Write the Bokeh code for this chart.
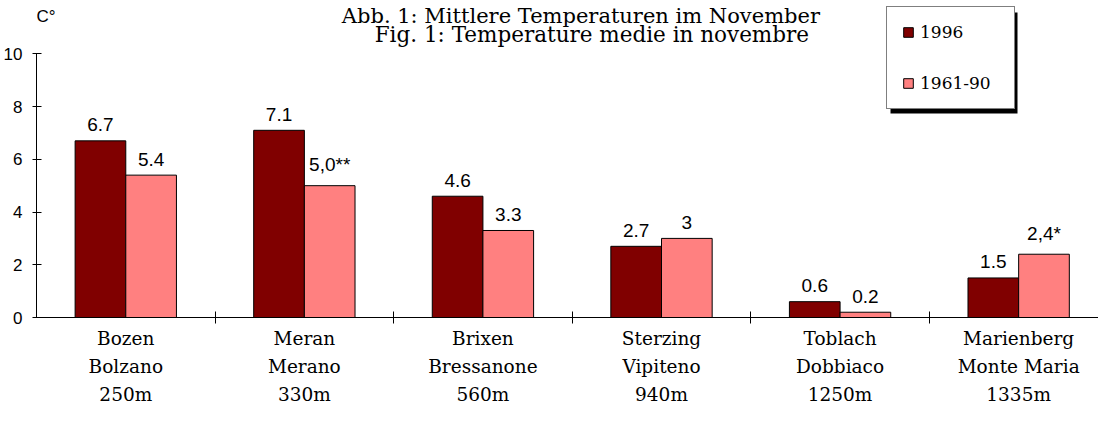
from bokeh.plotting import figure
from bokeh.models import (Range1d, FixedTicker, Legend, LegendItem, Label,
                          BoxAnnotation, ColumnDataSource)
from bokeh.transform import dodge
from bokeh.core.properties import value
from bokeh.embed import file_html
from bokeh.resources import INLINE

# ---------------- data ----------------
stations_de = ["Bozen", "Meran", "Brixen", "Sterzing", "Toblach", "Marienberg"]
stations_it = ["Bolzano", "Merano", "Bressanone", "Vipiteno", "Dobbiaco", "Monte Maria"]
altitudes = ["250m", "330m", "560m", "940m", "1250m", "1335m"]
series_names = ["1996", "1961-90"]
vals_1996 = [6.7, 7.1, 4.6, 2.7, 0.6, 1.5]
vals_6190 = [5.4, 5.0, 3.3, 3.0, 0.2, 2.4]
labels_1996 = ["6.7", "7.1", "4.6", "2.7", "0.6", "1.5"]
labels_6190 = ["5.4", "5,0**", "3.3", "3", "0.2", "2,4*"]
y_ticks = [0, 2, 4, 6, 8, 10]
title_de = "Abb. 1: Mittlere Temperaturen im November"
title_it = "Fig. 1: Temperature medie in novembre"
y_unit = "C°"

# ---------------- layout constants ----------------
W, H = 1098, 407
PX_CAT = 179.75          # pixels per category
FRAME_W = 1069
FRAME_H = 309            # expected frame height (figure px)
PX_UNIT = (FRAME_H - 52) / 10.0
x_end = FRAME_W / PX_CAT
y_end = FRAME_H / PX_UNIT
BAR_W = 51 / PX_CAT

C1 = "#800000"
C2 = "#FF8080"
SERIF = "DejaVu Serif"
SANS = "Liberation Sans"

n = len(stations_de)
centers = [i + 0.5 for i in range(n)]
cat_labels = {c: f"{a}\n{b}\n{m}" for c, a, b, m in zip(centers, stations_de, stations_it, altitudes)}


def off(s):
    return -21 if "*" in s else -16


src = ColumnDataSource(dict(
    x=centers, v1=vals_1996, v2=vals_6190,
    l1=labels_1996, l2=labels_6190,
    o1=[off(s) for s in labels_1996], o2=[off(s) for s in labels_6190],
))

p = figure(width=W, height=H, x_range=Range1d(0, x_end), y_range=Range1d(0, y_end),
           output_backend="svg", toolbar_location=None, min_border=0,
           background_fill_color="white", border_fill_color="white")
p.outline_line_color = None
p.xgrid.visible = False
p.ygrid.visible = False

r1 = p.vbar(x=dodge("x", -BAR_W / 2), top="v1", width=BAR_W, bottom=0, source=src,
            fill_color=C1, line_color="black", line_width=1)
r2 = p.vbar(x=dodge("x", BAR_W / 2), top="v2", width=BAR_W, bottom=0, source=src,
            fill_color=C2, line_color="black", line_width=1)

p.text(x=dodge("x", -BAR_W / 2), y="v1", text="l1", y_offset="o1", source=src,
       text_align="center", text_baseline="alphabetic",
       text_font=value(SANS), text_font_size="19px", text_color="black")
p.text(x=dodge("x", BAR_W / 2), y="v2", text="l2", y_offset="o2", source=src,
       text_align="center", text_baseline="alphabetic",
       text_font=value(SANS), text_font_size="19px", text_color="black")

# x axis
xa = p.xaxis[0]
xa.ticker = FixedTicker(ticks=centers, minor_ticks=[float(i) for i in range(1, n)])
xa.major_label_overrides = cat_labels
xa.major_tick_in = 0
xa.major_tick_out = 0
xa.minor_tick_in = 6
xa.minor_tick_out = 6
xa.minor_tick_line_color = "black"
xa.axis_line_color = "black"
xa.major_label_standoff = 4
xa.major_label_text_font = SERIF
xa.major_label_text_font_size = "18.5px"
xa.major_label_text_color = "black"
xa.major_label_text_line_height = 1.34

# y axis
ya = p.yaxis[0]
ya.ticker = FixedTicker(ticks=y_ticks)
ya.bounds = (0, 10)
ya.major_tick_in = 5
ya.major_tick_out = 4
ya.minor_tick_line_color = None
ya.axis_line_color = "black"
ya.major_tick_line_color = "black"
ya.major_label_standoff = 10
ya.major_label_text_font = SANS
ya.major_label_text_font_size = "17px"
ya.major_label_text_color = "black"

# titles and unit label (positions in image pixels converted to data)
def py(img_y):
    return (FRAME_H + 8 - img_y) / PX_UNIT


def px(img_x):
    return (img_x - 37) / PX_CAT


p.add_layout(Label(x=px(585), y=py(23), text=title_de,
                   text_align="center", text_baseline="alphabetic",
                   text_font=SERIF, text_font_size="21px", text_color="black"))
p.add_layout(Label(x=px(596), y=py(41), text=title_it,
                   text_align="center", text_baseline="alphabetic",
                   text_font=SERIF, text_font_size="21.5px", text_color="black"))
p.add_layout(Label(x=0, y=py(24), text=y_unit,
                   text_align="left", text_baseline="alphabetic",
                   text_font=SANS, text_font_size="17px", text_color="black"))

# legend shadow + legend
LEG_LEFT = 850
LEG_H = 101
LEG_W = 127
LEG_BOTTOM = FRAME_H - LEG_H
shadow = BoxAnnotation(left=LEG_LEFT + 4, right=LEG_LEFT + LEG_W + 4,
                       bottom=LEG_BOTTOM - 4, top=LEG_BOTTOM + LEG_H - 4,
                       left_units="screen", right_units="screen",
                       bottom_units="screen", top_units="screen",
                       fill_color="black", fill_alpha=1, line_alpha=0)
p.add_layout(shadow)

legend = Legend(items=[LegendItem(label=series_names[0], renderers=[r1]),
                       LegendItem(label=series_names[1], renderers=[r2])],
                location=(LEG_LEFT, LEG_BOTTOM), orientation="vertical",
                padding=15, spacing=31, margin=0,
                glyph_width=12, glyph_height=12, label_height=20, label_width=79,
                label_standoff=6,
                border_line_color="black", border_line_width=1,
                background_fill_color="white", background_fill_alpha=1,
                label_text_font=SERIF, label_text_font_size="17px",
                label_text_color="black")
p.add_layout(legend, "center")

open("out.html", "w").write(file_html(p, INLINE))
